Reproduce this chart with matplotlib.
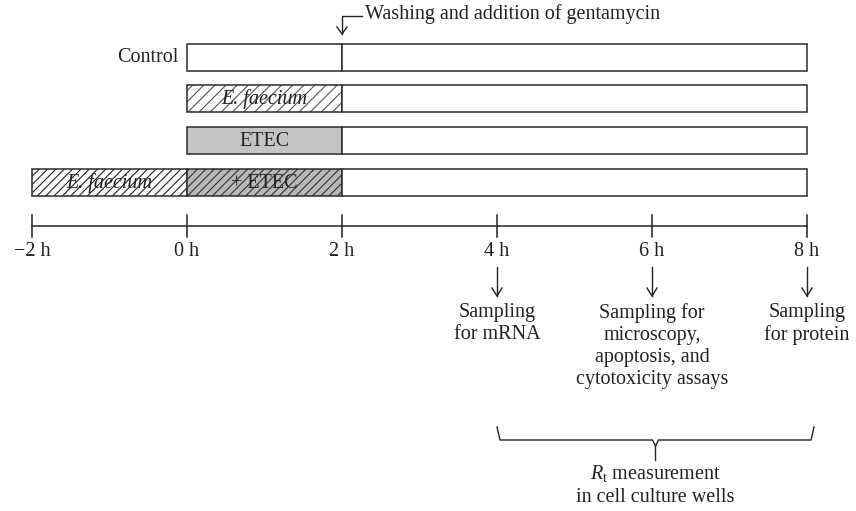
import matplotlib.pyplot as plt
from matplotlib.patches import Rectangle

plt.rcParams['font.family'] = ['Liberation Serif', 'DejaVu Serif']
plt.rcParams['mathtext.fontset'] = 'custom'
plt.rcParams['mathtext.rm'] = 'Liberation Serif'
plt.rcParams['mathtext.it'] = 'Liberation Serif:italic'
plt.rcParams['hatch.linewidth'] = 0.8

# timeline ticks (hours)
tick_hours = [-2, 0, 2, 4, 6, 8]
tick_labels = ['\u22122 h', '0 h', '2 h', '4 h', '6 h', '8 h']

# rows of the protocol: label on the left, segments (start, end, style, text)
row_labels = ['Control', '', '', '']
row_segments = [
    [(0, 2, 'white', ''), (2, 8, 'white', '')],
    [(0, 2, 'hatch_light', 'E. faecium'), (2, 8, 'white', '')],
    [(0, 2, 'gray', 'ETEC'), (2, 8, 'white', '')],
    [(-2, 0, 'hatch', 'E. faecium'), (0, 2, 'hatchgray', '+ ETEC'), (2, 8, 'white', '')],
]
row_top = [44, 85, 127, 169]   # pixel rows (y axis runs in pixels)
bar_h = 27

sampling_hours = [4, 6, 8]
sampling_texts = ['Sampling\nfor mRNA',
                  'Sampling for\nmicroscopy,\napoptosis, and\ncytotoxicity assays',
                  'Sampling\nfor protein']

fig = plt.figure(figsize=(8.56, 5.11), dpi=100)
ax = fig.add_axes([0, 0, 1, 1])
px = 77.5  # pixels per hour
ax.set_xlim(-187 / px, (856 - 187) / px)
ax.set_ylim(511, 0)
ax.axis('off')

edge = '#2b2b2b'
fs = 14.5
# facecolor, hatch pattern, hatch colour
styles = {
    'white': ('white', None, None),
    'hatch_light': ('white', '///', '#555555'),
    'hatch': ('white', '////', '#222222'),
    'gray': ('#c4c4c4', None, None),
    'hatchgray': ('#b8b8b8', '////', '#333333'),
}

for lab, segs, top in zip(row_labels, row_segments, row_top):
    for s, e, st, txt in segs:
        fc, hp, hc = styles[st]
        ax.add_patch(Rectangle((s, top), e - s, bar_h, facecolor=fc, linewidth=0))
        if txt:
            ital = 'italic' if 'faecium' in txt else 'normal'
            ax.text((s + e) / 2, top + bar_h / 2 + 1, txt, ha='center', va='center',
                    fontsize=fs, style=ital, color='#222222')
        if hp:
            ax.add_patch(Rectangle((s, top), e - s, bar_h, fill=False, hatch=hp,
                                   edgecolor=hc, linewidth=0))
        ax.add_patch(Rectangle((s, top), e - s, bar_h, fill=False,
                               edgecolor=edge, linewidth=1.1))
    if lab:
        ax.text(segs[0][0] - 8 / px, top + bar_h / 2, lab, ha='right', va='center',
                fontsize=fs, color='#222222')

# washing arrow
ax.plot([2 + 20 / px, 2, 2], [16, 16, 34], color='#222222', lw=1)
ax.plot([2 - 5 / px, 2, 2 + 5 / px], [27, 34, 27], color='#222222', lw=1)
ax.text(2 + 23 / px, 14, 'Washing and addition of gentamycin', ha='left', va='center',
        fontsize=fs, color='#222222')

# time axis
ax.plot([tick_hours[0], tick_hours[-1]], [226, 226], color='#222222', lw=1.1)
for h, t in zip(tick_hours, tick_labels):
    ax.plot([h, h], [215, 237], color='#222222', lw=1.1)
    ax.text(h, 252, t, ha='center', va='center', fontsize=fs, color='#222222')

# sampling arrows and texts
for h, t in zip(sampling_hours, sampling_texts):
    ax.plot([h, h], [267, 296], color='#222222', lw=1)
    ax.plot([h - 5 / px, h, h + 5 / px], [288, 296, 288], color='#222222', lw=1)
    ax.text(h, 303, t, ha='center', va='top', fontsize=fs, color='#222222',
            linespacing=1.22)

# brace
bl, br = 4, 8 + 7 / px
bc = (bl + br) / 2
ax.plot([bl, bl + 3 / px, bc - 3 / px, bc, bc + 3 / px, br - 3 / px, br],
        [427, 440, 440, 446, 440, 440, 427], color='#222222', lw=1)
ax.plot([bc, bc], [446, 460], color='#222222', lw=1)
ax.text(bc, 474, r'$R_\mathregular{t}$ measurement', ha='center', va='center',
        fontsize=fs, color='#222222')
ax.text(bc, 497, 'in cell culture wells', ha='center', va='center',
        fontsize=fs, color='#222222')

fig.savefig('out.png', dpi=100)
